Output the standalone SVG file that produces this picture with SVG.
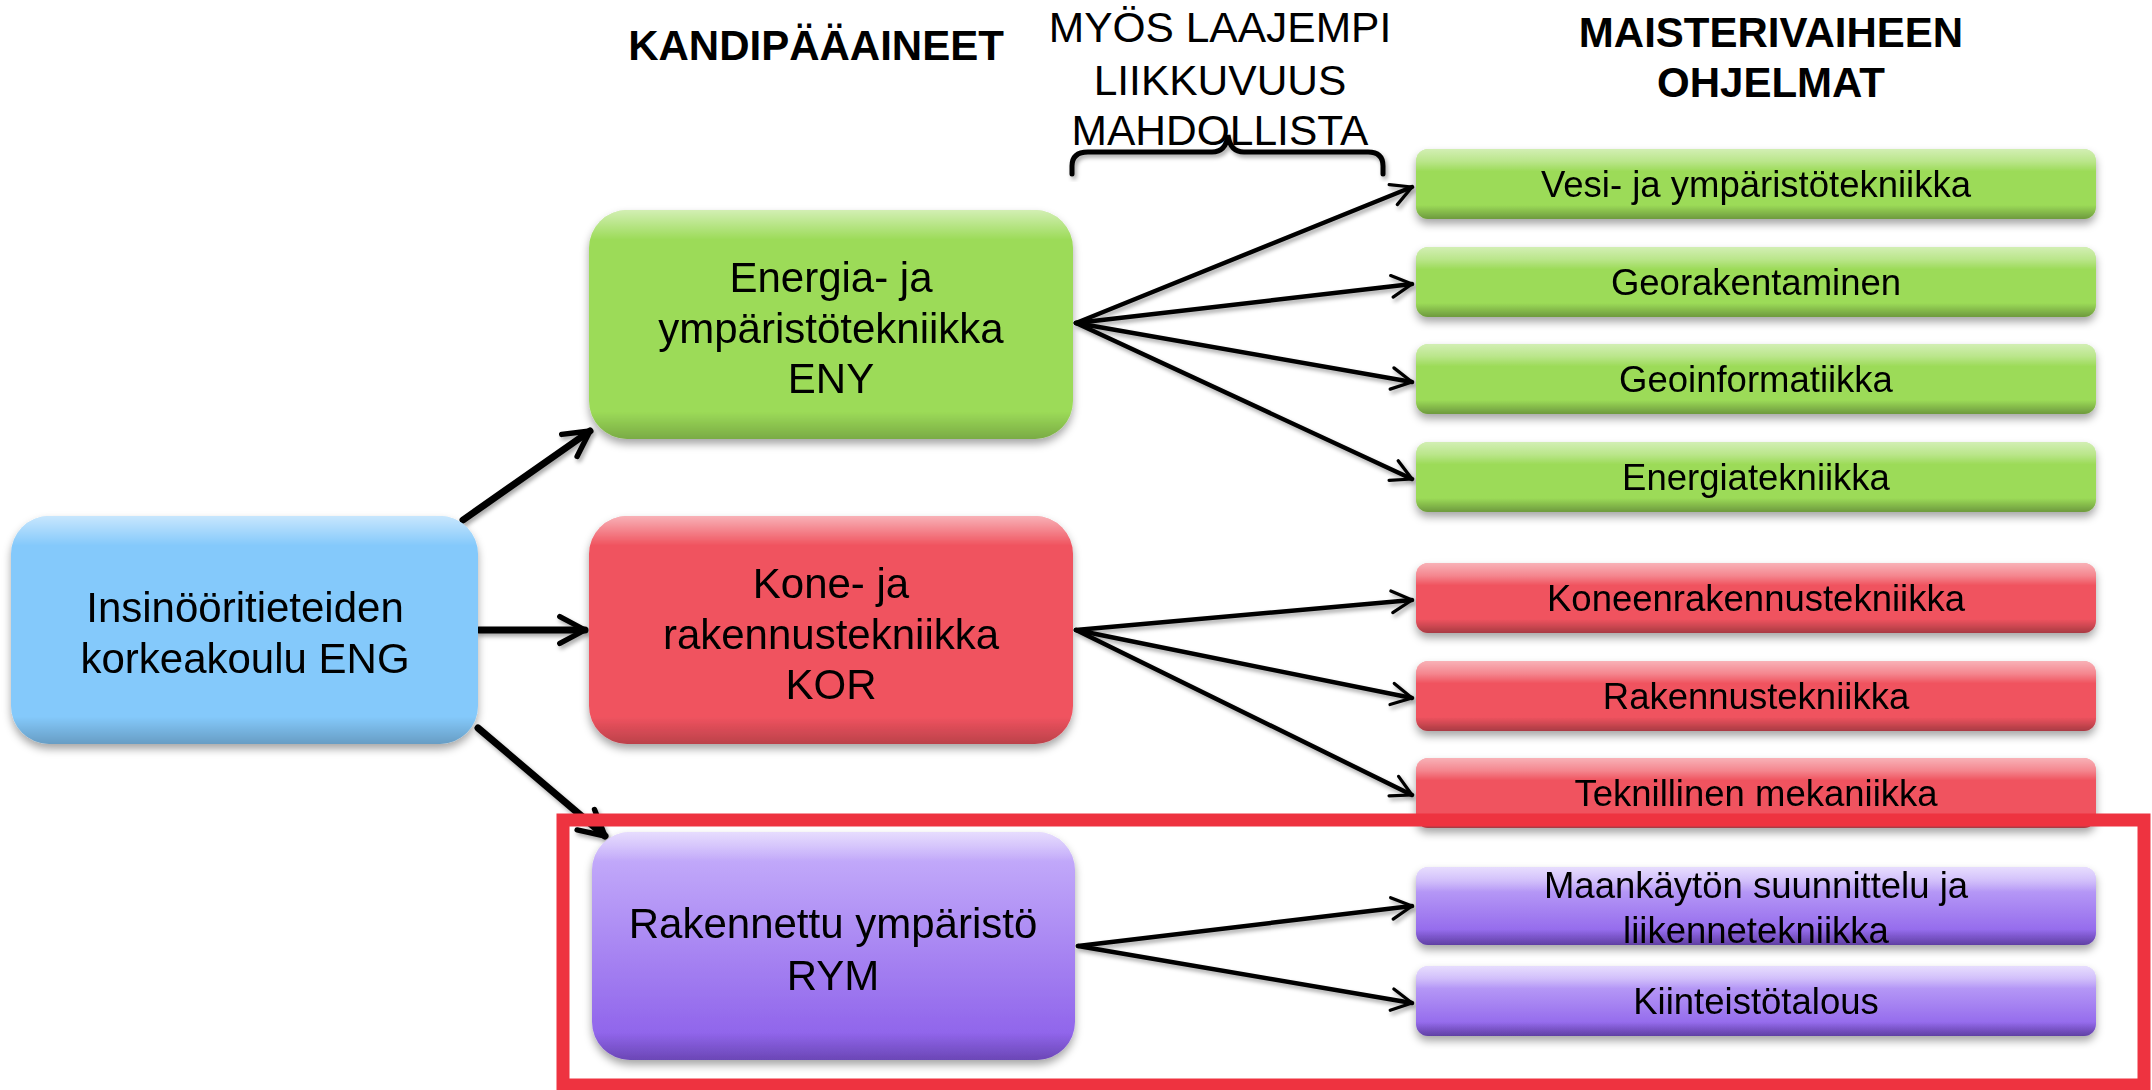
<svg xmlns="http://www.w3.org/2000/svg" width="2152" height="1090" viewBox="0 0 2152 1090">
<defs>
<style>
.t{font-family:"Liberation Sans",Arial,sans-serif;fill:#000;text-anchor:middle}
.big{font-size:42px}
.sm{font-size:36.5px}
.hdr{font-size:42px;font-weight:bold}
.note{font-size:42.5px}
.con{fill:none;stroke:#000;stroke-linecap:round}
.thin{stroke-width:4.5;marker-end:url(#ah)}
.thick{stroke-width:7;marker-end:url(#ahb)}
</style>
<linearGradient id="glossBig" x1="0" y1="0" x2="0" y2="1">
<stop offset="0" stop-color="#fff" stop-opacity="0.55"/>
<stop offset="0.06" stop-color="#fff" stop-opacity="0.3"/>
<stop offset="0.13" stop-color="#fff" stop-opacity="0"/>
<stop offset="0.88" stop-color="#000" stop-opacity="0"/>
<stop offset="1" stop-color="#000" stop-opacity="0.22"/>
</linearGradient>
<linearGradient id="glossSm" x1="0" y1="0" x2="0" y2="1">
<stop offset="0" stop-color="#fff" stop-opacity="0.55"/>
<stop offset="0.18" stop-color="#fff" stop-opacity="0.3"/>
<stop offset="0.32" stop-color="#fff" stop-opacity="0"/>
<stop offset="0.8" stop-color="#000" stop-opacity="0"/>
<stop offset="1" stop-color="#000" stop-opacity="0.3"/>
</linearGradient>
<linearGradient id="purp" x1="0" y1="0" x2="0" y2="1">
<stop offset="0" stop-color="#C9B3FC"/>
<stop offset="1" stop-color="#895BE9"/>
</linearGradient>
<filter id="sh" x="-10%" y="-10%" width="120%" height="130%">
<feDropShadow dx="0" dy="5" stdDeviation="4" flood-color="#000" flood-opacity="0.35"/>
</filter>
<filter id="lsh" x="-10%" y="-10%" width="120%" height="130%">
<feDropShadow dx="2" dy="3" stdDeviation="2" flood-color="#000" flood-opacity="0.35"/>
</filter>
<marker id="ah" viewBox="0 0 10 10" refX="9" refY="5" markerWidth="6" markerHeight="6" orient="auto" markerUnits="strokeWidth">
<path d="M1.5,1 L9,5 L1.5,9" fill="none" stroke="#000" stroke-width="1.2" stroke-linecap="round" stroke-linejoin="round"/>
</marker>
<marker id="ahb" viewBox="0 0 10 10" refX="9" refY="5" markerWidth="4.8" markerHeight="4.8" orient="auto" markerUnits="strokeWidth">
<path d="M1.5,1 L9,5 L1.5,9" fill="none" stroke="#000" stroke-width="1.6" stroke-linecap="round" stroke-linejoin="round"/>
</marker>
</defs>
<rect width="2152" height="1090" fill="#fff"/>

<g id="headers">
<text class="t hdr" x="816" y="60">KANDIPÄÄAINEET</text>
<text class="t hdr" x="1771" y="47">MAISTERIVAIHEEN</text>
<text class="t hdr" x="1771" y="97">OHJELMAT</text>
<text class="t note" x="1220" y="42">MYÖS LAAJEMPI</text>
<text class="t note" x="1220" y="95">LIIKKUVUUS</text>
<text class="t note" x="1220" y="145">MAHDOLLISTA</text>
<path id="brace" d="M1072,174 L1072,166 Q1072,152 1088,152 L1212,152 Q1226,152 1228,135 Q1230,152 1244,152 L1368,152 Q1383,152 1383,166 L1383,174" fill="none" stroke="#000" stroke-width="5" stroke-linecap="round" filter="url(#lsh)"/>
</g>

<g id="connectors" filter="url(#lsh)">
<line class="con thick" x1="463" y1="520" x2="590" y2="431"/>
<line class="con thick" x1="479" y1="630" x2="585" y2="630"/>
<line class="con thick" x1="478" y1="728" x2="605" y2="836"/>
<line class="con thin" x1="1076" y1="323" x2="1412" y2="187"/>
<line class="con thin" x1="1076" y1="323" x2="1412" y2="284"/>
<line class="con thin" x1="1076" y1="323" x2="1412" y2="382"/>
<line class="con thin" x1="1076" y1="323" x2="1412" y2="479"/>
<line class="con thin" x1="1076" y1="630" x2="1412" y2="600"/>
<line class="con thin" x1="1076" y1="630" x2="1412" y2="698"/>
<line class="con thin" x1="1076" y1="630" x2="1412" y2="795"/>
<line class="con thin" x1="1078" y1="946" x2="1412" y2="906"/>
<line class="con thin" x1="1078" y1="946" x2="1412" y2="1003"/>
</g>

<g id="eng" filter="url(#sh)">
<rect x="11" y="516" width="467" height="228" rx="38" fill="#84C9FB"/>
<rect x="11" y="516" width="467" height="228" rx="38" fill="url(#glossBig)"/>
<text class="t big" x="245" y="622">Insinööritieteiden</text>
<text class="t big" x="245" y="673">korkeakoulu ENG</text>
</g>

<g id="eny" filter="url(#sh)">
<rect x="589" y="210" width="484" height="229" rx="38" fill="#9CDB58"/>
<rect x="589" y="210" width="484" height="229" rx="38" fill="url(#glossBig)"/>
<text class="t big" x="831" y="292">Energia- ja</text>
<text class="t big" x="831" y="343">ympäristötekniikka</text>
<text class="t big" x="831" y="393">ENY</text>
</g>

<g id="kor" filter="url(#sh)">
<rect x="589" y="516" width="484" height="228" rx="38" fill="#F0535F"/>
<rect x="589" y="516" width="484" height="228" rx="38" fill="url(#glossBig)"/>
<text class="t big" x="831" y="598">Kone- ja</text>
<text class="t big" x="831" y="649">rakennustekniikka</text>
<text class="t big" x="831" y="699">KOR</text>
</g>

<g id="rym" filter="url(#sh)">
<rect x="592" y="832" width="483" height="228" rx="38" fill="url(#purp)"/>
<rect x="592" y="832" width="483" height="228" rx="38" fill="url(#glossBig)"/>
<text class="t big" x="833" y="938">Rakennettu ympäristö</text>
<text class="t big" x="833" y="990">RYM</text>
</g>

<g id="vesi" filter="url(#sh)">
<rect x="1416" y="149" width="680" height="70" rx="12" fill="#9CDB58"/>
<rect x="1416" y="149" width="680" height="70" rx="12" fill="url(#glossSm)"/>
<text class="t sm" x="1756" y="197">Vesi- ja ympäristötekniikka</text>
</g>
<g id="georak" filter="url(#sh)">
<rect x="1416" y="247" width="680" height="70" rx="12" fill="#9CDB58"/>
<rect x="1416" y="247" width="680" height="70" rx="12" fill="url(#glossSm)"/>
<text class="t sm" x="1756" y="295">Georakentaminen</text>
</g>
<g id="geoinf" filter="url(#sh)">
<rect x="1416" y="344" width="680" height="70" rx="12" fill="#9CDB58"/>
<rect x="1416" y="344" width="680" height="70" rx="12" fill="url(#glossSm)"/>
<text class="t sm" x="1756" y="392">Geoinformatiikka</text>
</g>
<g id="energia" filter="url(#sh)">
<rect x="1416" y="442" width="680" height="70" rx="12" fill="#9CDB58"/>
<rect x="1416" y="442" width="680" height="70" rx="12" fill="url(#glossSm)"/>
<text class="t sm" x="1756" y="490">Energiatekniikka</text>
</g>
<g id="kone" filter="url(#sh)">
<rect x="1416" y="563" width="680" height="70" rx="12" fill="#F0535F"/>
<rect x="1416" y="563" width="680" height="70" rx="12" fill="url(#glossSm)"/>
<text class="t sm" x="1756" y="611">Koneenrakennustekniikka</text>
</g>
<g id="rak" filter="url(#sh)">
<rect x="1416" y="661" width="680" height="70" rx="12" fill="#F0535F"/>
<rect x="1416" y="661" width="680" height="70" rx="12" fill="url(#glossSm)"/>
<text class="t sm" x="1756" y="709">Rakennustekniikka</text>
</g>
<g id="tek" filter="url(#sh)">
<rect x="1416" y="758" width="680" height="70" rx="12" fill="#F0535F"/>
<rect x="1416" y="758" width="680" height="70" rx="12" fill="url(#glossSm)"/>
<text class="t sm" x="1756" y="806">Teknillinen mekaniikka</text>
</g>
<g id="maank" filter="url(#sh)">
<rect x="1416" y="867" width="680" height="78" rx="12" fill="url(#purp)"/>
<rect x="1416" y="867" width="680" height="78" rx="12" fill="url(#glossSm)"/>
<text class="t sm" x="1756" y="898">Maankäytön suunnittelu ja</text>
<text class="t sm" x="1756" y="943">liikennetekniikka</text>
</g>
<g id="kiint" filter="url(#sh)">
<rect x="1416" y="966" width="680" height="70" rx="12" fill="url(#purp)"/>
<rect x="1416" y="966" width="680" height="70" rx="12" fill="url(#glossSm)"/>
<text class="t sm" x="1756" y="1014">Kiinteistötalous</text>
</g>

<rect id="highlight" x="563" y="820" width="1581" height="265" fill="none" stroke="#EE3340" stroke-width="13"/>
</svg>
